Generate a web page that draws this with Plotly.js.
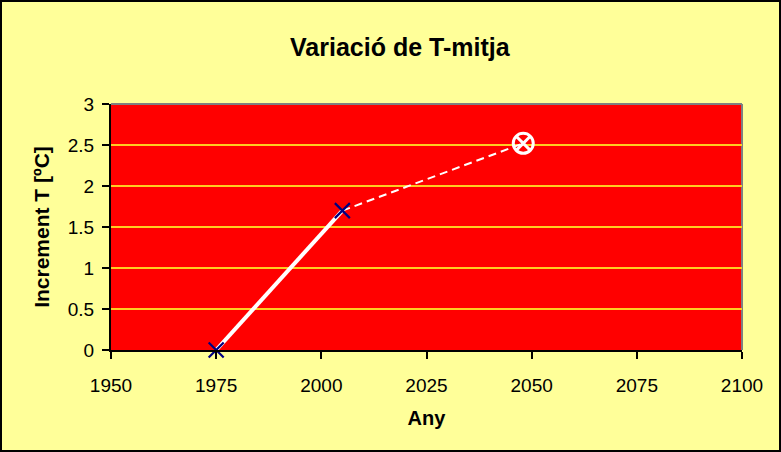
<!DOCTYPE html>
<html><head><meta charset="utf-8">
<script src="https://cdn.plot.ly/plotly-3.0.1.min.js"></script>
<style>
html,body{margin:0;padding:0;background:#FFFF99;}
#chart{width:781px;height:452px;box-sizing:border-box;border:2px solid #000;}
</style></head><body>
<div id="chart"></div>
<script>
const obsYears = [1975, 2005];
const obsValues = [0, 1.7];
const projYears = [2005, 2048];
const projValues = [1.7, 2.52];
const xTicks = [1950, 1975, 2000, 2025, 2050, 2075, 2100];
const yTicks = [0, 0.5, 1, 1.5, 2, 2.5, 3];

const traces = [
  {x: projYears, y: projValues, mode: 'lines', type: 'scatter',
   line: {color: '#FFFFFF', width: 2, dash: '8px,5px'},
   showlegend: false, hoverinfo: 'x+y'},
  {x: projYears.slice(1), y: projValues.slice(1), mode: 'markers', type: 'scatter',
   marker: {symbol: 'circle-x-open', size: 20, color: '#FFFFFF', opacity: 1, line: {width: 3, color: '#FFFFFF'}},
   showlegend: false, hoverinfo: 'x+y'},
  {x: obsYears, y: obsValues, mode: 'lines+markers', type: 'scatter',
   line: {color: '#FFFFFF', width: 4},
   marker: {symbol: 'x-thin-open', size: 15, color: '#000080', opacity: 1, line: {width: 2.2, color: '#000080'}},
   showlegend: false, hoverinfo: 'x+y', cliponaxis: false}
];

const layout = {
  width: 777, height: 448,
  paper_bgcolor: '#FFFF99', plot_bgcolor: '#FF0000',
  margin: {l: 109, r: 37, t: 102, b: 100},
  font: {family: 'Liberation Sans, Arial, sans-serif', size: 19, color: '#000'},
  title: {text: '<b>Variació de T-mitja</b>', font: {size: 25, color: '#000'},
          xref: 'container', x: 0.512, xanchor: 'center', yref: 'container', y: 0.9, yanchor: 'middle'},
  xaxis: {range: [1950, 2100], tickvals: xTicks, ticktext: xTicks.map(String),
          showgrid: false, zeroline: false, showline: true, linecolor: '#000', linewidth: 2,
          ticks: 'outside', ticklen: 7, tickwidth: 2, tickcolor: '#000', ticklabelstandoff: 10,
          tickfont: {size: 19},
          title: {text: '<b>Any</b>', font: {size: 20}, standoff: 16}},
  yaxis: {range: [0, 3], tickvals: yTicks, ticktext: yTicks.map(String),
          showgrid: true, gridcolor: '#FFCC22', gridwidth: 2, zeroline: false,
          showline: true, linecolor: '#000', linewidth: 2,
          ticks: 'outside', ticklen: 7, tickwidth: 2, tickcolor: '#000', ticklabelstandoff: 4,
          tickfont: {size: 19},
          title: {text: '<b>Increment T [ºC]</b>', font: {size: 21}, standoff: 12}},
  shapes: [
    {type: 'line', xref: 'paper', yref: 'paper', x0: 0, x1: 1, y0: 1, y1: 1, line: {color: '#808080', width: 2}, layer: 'below'},
    {type: 'line', xref: 'paper', yref: 'paper', x0: 1, x1: 1, y0: 0, y1: 1, line: {color: '#808080', width: 2}, layer: 'below'}
  ]
};
Plotly.newPlot('chart', traces, layout, {displayModeBar: false, staticPlot: true});
</script></body></html>
